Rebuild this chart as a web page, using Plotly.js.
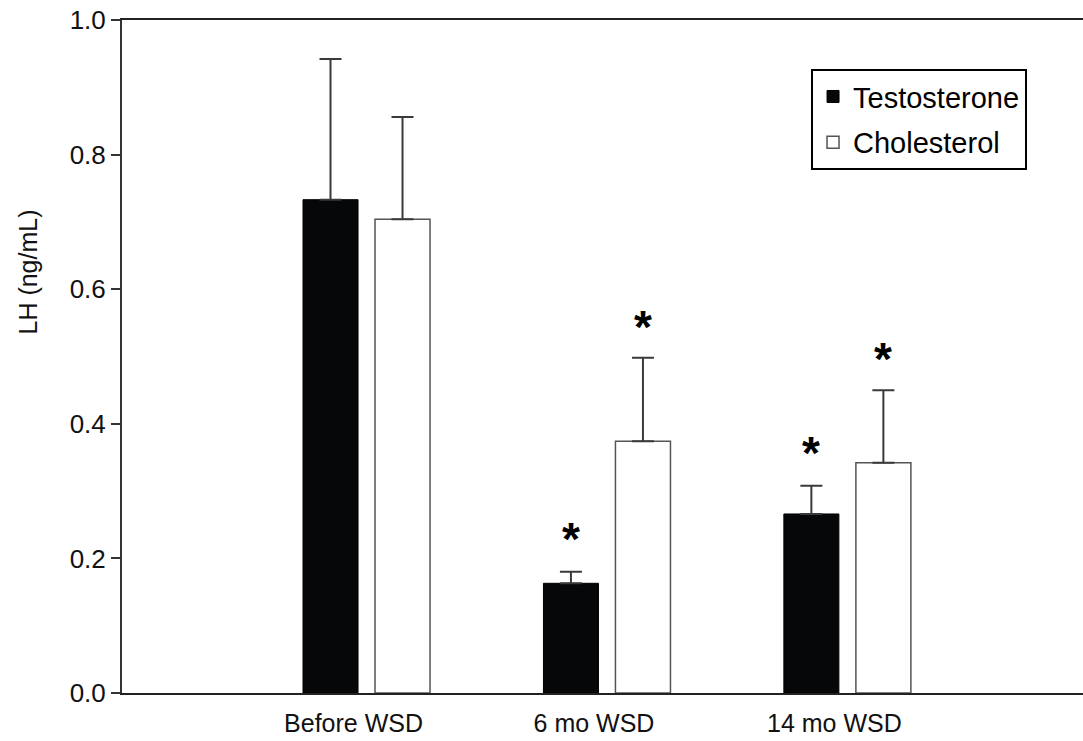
<!DOCTYPE html>
<html>
<head>
<meta charset="utf-8">
<script src="https://cdn.plot.ly/plotly-3.0.1.min.js"></script>
<style>html,body{margin:0;padding:0;background:#fff;}#chart{width:1083px;height:741px;}</style>
</head>
<body>
<div id="chart"></div>
<script>
const categories = ['Before WSD', '6 mo WSD', '14 mo WSD'];
const testosterone = [0.733, 0.163, 0.266];
const testosteroneErr = [0.209, 0.017, 0.042];
const cholesterol = [0.704, 0.374, 0.342];
const cholesterolErr = [0.152, 0.124, 0.108];
const sigTestosterone = [false, true, true];
const sigCholesterol = [false, true, true];
const yTicks = [0, 0.2, 0.4, 0.6, 0.8, 1.0];
const yTickText = ['0.0', '0.2', '0.4', '0.6', '0.8', '1.0'];
const yTitle = 'LH (ng/mL)';

const FONT = 'Liberation Sans, Arial, sans-serif';

const traces = [
  {
    type: 'bar', name: 'Testosterone', x: categories, y: testosterone,
    marker: {color: '#060708', line: {color: '#000', width: 1}},
    error_y: {type: 'data', symmetric: false, array: testosteroneErr,
      arrayminus: testosteroneErr.map(() => 0), color: '#3a3a3a', thickness: 2, width: 11},
    legendgroup: 'a'
  },
  {
    type: 'bar', name: 'Cholesterol', x: categories, y: cholesterol,
    marker: {color: '#ffffff', line: {color: '#555', width: 1.5}},
    error_y: {type: 'data', symmetric: false, array: cholesterolErr,
      arrayminus: cholesterolErr.map(() => 0), color: '#3a3a3a', thickness: 2, width: 11},
    legendgroup: 'b'
  }
];

const annotations = [];
categories.forEach((c, i) => {
  if (sigTestosterone[i]) annotations.push({x: i, y: testosterone[i] + testosteroneErr[i],
    xref: 'x', yref: 'y', text: '<b>*</b>', showarrow: false, xshift: -36, yanchor: 'bottom', yshift: 5,
    font: {family: FONT, size: 46, color: '#000'}});
  if (sigCholesterol[i]) annotations.push({x: i, y: cholesterol[i] + cholesterolErr[i],
    xref: 'x', yref: 'y', text: '<b>*</b>', showarrow: false, xshift: 36, yanchor: 'bottom', yshift: 3,
    font: {family: FONT, size: 46, color: '#000'}});
});
annotations.push({xref: 'paper', yref: 'paper', x: -0.098, y: 0.626, text: yTitle,
  textangle: -90, showarrow: false, xanchor: 'center', yanchor: 'middle',
  font: {family: FONT, size: 25, color: '#111'}});

const layout = {
  width: 1083, height: 741,
  margin: {l: 122, r: 0, t: 20, b: 48},
  paper_bgcolor: '#fff', plot_bgcolor: '#fff',
  barmode: 'group', bargap: 0.401, bargroupgap: 0.236,
  showlegend: true,
  legend: {x: 0.717, y: 0.927, xanchor: 'left', yanchor: 'top',
    bgcolor: '#fff', bordercolor: '#000', borderwidth: 2,
    font: {family: FONT, size: 29, color: '#000'}, traceorder: 'grouped', tracegroupgap: 5},
  xaxis: {type: 'category', range: [-1.017, 2.98], showgrid: false, zeroline: false,
    showline: true, linecolor: '#222', linewidth: 2, mirror: true, ticks: '',
    ticklabelshift: -13, ticklabelstandoff: 7,
    tickfont: {family: FONT, size: 25, color: '#111'}},
  yaxis: {range: [0, 1.0], tickvals: yTicks, ticktext: yTickText, showgrid: false, zeroline: false,
    showline: true, linecolor: '#333', linewidth: 2, ticks: 'outside', ticklen: 9, tickwidth: 2,
    tickcolor: '#333', tickfont: {family: FONT, size: 26, color: '#111'}},
  annotations: annotations
};

Plotly.newPlot('chart', traces, layout, {displayModeBar: false, staticPlot: true});
</script>
</body>
</html>
